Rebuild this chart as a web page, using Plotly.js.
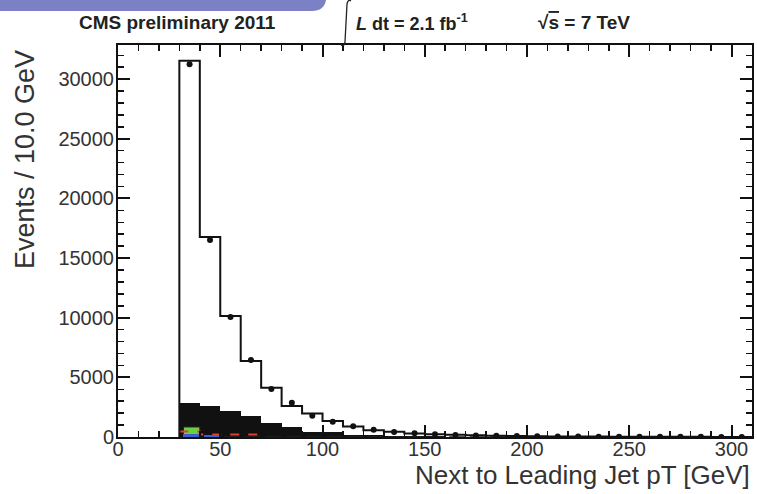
<!DOCTYPE html>
<html>
<head>
<meta charset="utf-8">
<script src="https://cdn.plot.ly/plotly-3.0.1.min.js"></script>
<style>html,body{margin:0;padding:0;background:#fff;}#plot{width:757px;height:494px;}</style>
</head>
<body>
<div id="plot"></div>
<script>
// ---- data ----
const binLow = [30,40,50,60,70,80,90,100,110,120,130,140,150,160,170,180,190,200,210,220,230,240,250,260,270,280,290,300];
const binWidth = 10;
const mcTotal   = [31550,16760,10140,6370,4130,2600,1980,1350,880,560,430,300,230,180,140,110,85,65,52,42,34,28,23,19,15,12,10,9];
const dataCounts= [31250,16520,10060,6450,4020,2870,1790,1280,900,600,420,310,240,170,130,110,75,65,48,42,30,28,20,18,16,11,10,8];
const bkgBlack  = [2870,2620,2200,1760,1150,870,450,400,200,150,100,70,50,35,25,18,13,10,8,6,5,4,3,3,2,2,1,1];
const compGreen = [840,0,0,0,0,0,0,0,0,0,0,0,0,0,0,0,0,0,0,0,0,0,0,0,0,0,0,0];
const compBlue  = [230,190,0,0,0,0,0,0,0,0,0,0,0,0,0,0,0,0,0,0,0,0,0,0,0,0,0,0];
const compRed   = [460,200,200,200,0,0,0,0,0,0,0,0,0,0,0,0,0,0,0,0,0,0,0,0,0,0,0,0];

// ---- helpers ----
const centers = binLow.map(v => v + binWidth/2);
function stepXY(vals){
  const xs=[binLow[0]], ys=[0];
  for(let i=0;i<vals.length;i++){ xs.push(binLow[i]); ys.push(vals[i]); }
  xs.push(binLow[binLow.length-1]+binWidth); ys.push(vals[vals.length-1]);
  return {x:xs,y:ys};
}
function stepNonZero(vals){
  const xs=[], ys=[];
  let last=-1;
  for(let i=0;i<vals.length;i++){ if(vals[i]>0){ xs.push(binLow[i]); ys.push(vals[i]); last=i; } }
  xs.push(binLow[last]+binWidth); ys.push(vals[last]);
  return {x:xs,y:ys};
}

// pixel -> paper helpers (layout only)
const L=118, T=45, W=634, H=392;
const px = x => (x-L)/W;
const py = y => (T+H-y)/H;

const mcStep = stepXY(mcTotal);
const redStep = stepNonZero(compRed);

const traces = [
  {type:'bar', x:centers, y:bkgBlack, width:binWidth, marker:{color:'#111', line:{width:0}}, hoverinfo:'skip', showlegend:false},
  {type:'bar', x:centers, y:compGreen, width:binWidth*0.8, offset:-binWidth*0.3, marker:{color:'#6ad040', line:{width:1,color:'#222'}}, hoverinfo:'skip', showlegend:false},
  {type:'bar', x:centers, y:compBlue, width:binWidth*0.8, offset:-binWidth*0.3, marker:{color:'#3a5fd0', line:{width:0}}, hoverinfo:'skip', showlegend:false},
  {type:'scatter', mode:'lines', x:redStep.x, y:redStep.y, line:{shape:'hv', color:'#e04030', width:2, dash:'dash'}, hoverinfo:'skip', showlegend:false},
  {type:'scatter', mode:'lines', x:mcStep.x, y:mcStep.y, line:{shape:'hv', color:'#111', width:2}, hoverinfo:'skip', showlegend:false},
  {type:'scatter', mode:'markers', x:centers, y:dataCounts,
   error_y:{type:'data', array:dataCounts.map(v=>Math.sqrt(v)), color:'#111', thickness:1.5, width:0},
   marker:{color:'#111', size:6, symbol:'circle'}, hoverinfo:'skip', showlegend:false}
];

const FONT = 'Liberation Sans, Arial, sans-serif';
const axisCommon = {
  ticks:'inside', ticklen:12, tickwidth:2, tickcolor:'#111',
  showline:true, linewidth:2, linecolor:'#111', mirror:'allticks',
  showgrid:false, zeroline:false, tickformat:'d',
  tickfont:{family:FONT, size:20, color:'#333'}
};

const layout = {
  width:757, height:494,
  margin:{l:L, r:757-L-W, t:T, b:494-T-H},
  paper_bgcolor:'#fff', plot_bgcolor:'#fff',
  barmode:'overlay', bargap:0,
  showlegend:false,
  xaxis: Object.assign({}, axisCommon, {range:[0,310], tick0:0, dtick:50, ticklabelstandoff:-7,
    minor:{dtick:10, ticks:'inside', ticklen:6, tickwidth:1.5, tickcolor:'#111'}}),
  yaxis: Object.assign({}, axisCommon, {range:[0,32865], tick0:0, dtick:5000, ticklabelstandoff:-2,
    minor:{dtick:1000, ticks:'inside', ticklen:6, tickwidth:1.5, tickcolor:'#111'}}),
  shapes:[
    {type:'path', xref:'paper', yref:'paper', layer:'above',
     path:`M ${px(0)},${py(0)} L ${px(326)},${py(0)} Q ${px(324)},${py(11)} ${px(312)},${py(11)} L ${px(0)},${py(11)} Z`,
     fillcolor:'#7c80c5', line:{width:0}},
    {type:'path', xref:'paper', yref:'paper', layer:'above',
     path:`M ${px(351)},${py(1)} Q ${px(348)},${py(-1)} ${px(347)},${py(4)} L ${px(345)},${py(42)} Q ${px(344)},${py(47)} ${px(341)},${py(45)}`,
     line:{color:'#222', width:1.3}}
  ],
  annotations:[
    {xref:'paper', yref:'paper', x:px(177), y:py(22), xanchor:'center', yanchor:'middle', showarrow:false,
     text:'<b>CMS preliminary 2011</b>', font:{family:FONT, size:19, color:'#222'}},
    {xref:'paper', yref:'paper', x:px(354), y:py(22), xanchor:'left', yanchor:'middle', showarrow:false,
     text:'<b><i>L</i> dt = 2.1 fb<sup>-1</sup></b>', font:{family:FONT, size:18, color:'#222'}},
    {xref:'paper', yref:'paper', x:px(536), y:py(22), xanchor:'left', yanchor:'middle', showarrow:false,
     text:'<b>√<span style="text-decoration:overline">s</span> = 7 TeV</b>', font:{family:FONT, size:19, color:'#222'}},
    {xref:'paper', yref:'paper', x:px(25), y:py(160), xanchor:'center', yanchor:'middle', showarrow:false, textangle:-90,
     text:'Events / 10.0 GeV', font:{family:FONT, size:27, color:'#333'}},
    {xref:'paper', yref:'paper', x:px(752), y:py(475), xanchor:'right', yanchor:'middle', showarrow:false,
     text:'Next to Leading Jet pT [GeV]', font:{family:FONT, size:26, color:'#333'}}
  ]
};

Plotly.newPlot('plot', traces, layout, {staticPlot:true, displayModeBar:false});
</script>
</body>
</html>
